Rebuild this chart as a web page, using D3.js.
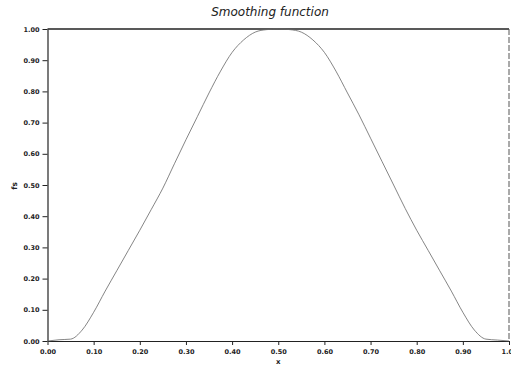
<!DOCTYPE html>
<html>
<head>
<meta charset="utf-8">
<script src="https://cdn.jsdelivr.net/npm/d3@7"></script>
<style>
  html, body { margin: 0; padding: 0; background: #fff; }
  svg { display: block; }
</style>
</head>
<body>
<svg id="chart" width="511" height="369"></svg>
<script>
// ---- data ----
const title = "Smoothing function";
const xLabel = "x";
const yLabel = "fs";
const xTicks = [0, 0.1, 0.2, 0.3, 0.4, 0.5, 0.6, 0.7, 0.8, 0.9, 1.0];
const yTicks = [0, 0.1, 0.2, 0.3, 0.4, 0.5, 0.6, 0.7, 0.8, 0.9, 1.0];
const xValues = [0, 0.025, 0.05, 0.075, 0.1, 0.125, 0.15, 0.175, 0.2, 0.225, 0.25,
  0.275, 0.3, 0.325, 0.35, 0.375, 0.4, 0.425, 0.45, 0.475, 0.5,
  0.525, 0.55, 0.575, 0.6, 0.625, 0.65, 0.675, 0.7, 0.725, 0.75,
  0.775, 0.8, 0.825, 0.85, 0.875, 0.9, 0.925, 0.95, 0.975, 1.0];
const fsValues = [0, 0.004, 0.006, 0.035, 0.092, 0.16, 0.225, 0.29, 0.355, 0.422, 0.49,
  0.568, 0.645, 0.72, 0.795, 0.865, 0.925, 0.965, 0.99, 0.998, 1.0,
  0.998, 0.99, 0.965, 0.925, 0.865, 0.795, 0.725, 0.65, 0.575, 0.5,
  0.425, 0.355, 0.29, 0.225, 0.16, 0.092, 0.035, 0.006, 0.003, 0];

// ---- layout ----
const svg = d3.select("#chart");
const mLeft = 47.5, mRight = 509, mTop = 29, mBottom = 341;

const x = d3.scaleLinear().domain([0, 1]).range([mLeft, mRight]);
const y = d3.scaleLinear().domain([0, 1]).range([mBottom, mTop]);

const fmt = d3.format(".2f");
const tickFont = "'DejaVu Sans', sans-serif";

// frame
svg.append("line").attr("x1", mLeft).attr("x2", mRight).attr("y1", mTop).attr("y2", mTop)
  .attr("stroke", "#222").attr("stroke-width", 1.4);
svg.append("line").attr("x1", mRight).attr("x2", mRight).attr("y1", mTop).attr("y2", mBottom)
  .attr("stroke", "#555").attr("stroke-width", 1).attr("stroke-dasharray", "6,2");

// bottom axis
const xAxis = svg.append("g").attr("transform", `translate(0,${mBottom})`)
  .call(d3.axisBottom(x).tickValues(xTicks).tickFormat(fmt).tickSize(4).tickSizeOuter(0));
// left axis
const yAxis = svg.append("g").attr("transform", `translate(${mLeft},0)`)
  .call(d3.axisLeft(y).tickValues(yTicks).tickFormat(fmt).tickSize(5).tickSizeOuter(0));

[xAxis, yAxis].forEach(g => {
  g.select(".domain").attr("stroke", "#222").attr("stroke-width", 1.2);
  g.selectAll(".tick line").attr("stroke", "#222");
  g.selectAll(".tick text").attr("font-family", tickFont).attr("font-size", 6.5)
    .attr("font-weight", "bold").attr("fill", "#222");
});
xAxis.selectAll(".tick text").attr("dy", "0.95em");
yAxis.selectAll(".tick text").attr("x", -8);

// curve
const line = d3.line().x((d, i) => x(d)).y((d, i) => y(fsValues[i])).curve(d3.curveMonotoneX);
svg.append("path").datum(xValues).attr("d", line)
  .attr("fill", "none").attr("stroke", "#666").attr("stroke-width", 0.8);

// title
svg.append("text").attr("x", 270).attr("y", 16).attr("text-anchor", "middle")
  .attr("font-family", "'DejaVu Sans', sans-serif").attr("font-style", "italic")
  .attr("font-size", 12).attr("fill", "#222").text(title);

// axis labels
svg.append("text").attr("x", x(0.5)).attr("y", 364).attr("text-anchor", "middle")
  .attr("font-family", tickFont).attr("font-size", 7).attr("font-weight", "bold")
  .attr("fill", "#222").text(xLabel);
svg.append("text").attr("transform", "translate(17,186) rotate(-90)")
  .attr("text-anchor", "middle").attr("font-family", tickFont).attr("font-size", 7.5)
  .attr("font-weight", "bold").attr("fill", "#222").text(yLabel);
</script>
</body>
</html>
